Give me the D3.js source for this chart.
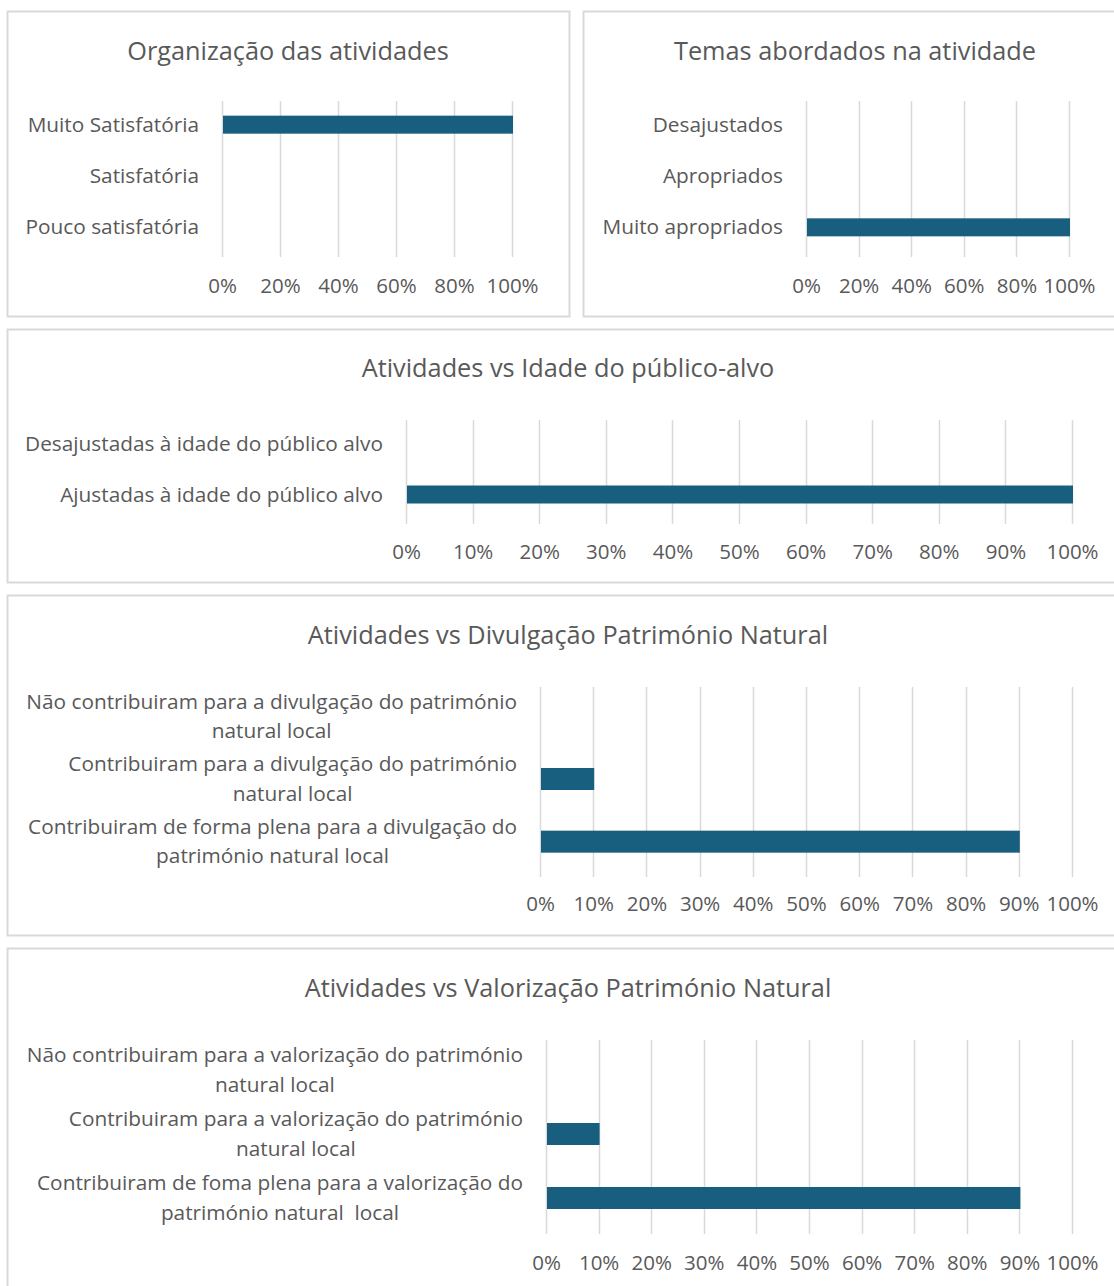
<!DOCTYPE html>
<html>
<head>
<meta charset="utf-8">
<script src="https://cdn.jsdelivr.net/npm/d3@7"></script>
<style>
  body { margin: 0; background: #fff; }
  svg { display: block; font-family: "Open Sans", sans-serif; }
  text { white-space: pre; }
</style>
</head>
<body>
<div id="chart"></div>
<script>
// chart data
var orgCategories = ['Muito Satisfatória', 'Satisfatória', 'Pouco satisfatória']
var orgValues = [1, 0, 0]

var temasCategories = ['Desajustados', 'Apropriados', 'Muito apropriados']
var temasValues = [0, 0, 1]

var idadeCategories = ['Desajustadas à idade do público alvo', 'Ajustadas à idade do público alvo']
var idadeValues = [0, 1]

var divulgCategories = [
  'Não contribuiram para a divulgação do património natural local',
  'Contribuiram para a divulgação do património natural local',
  'Contribuiram de forma plena para a divulgação do património natural local'
]
var divulgValues = [0, 0.1, 0.9]

var valorCategories = [
  'Não contribuiram para a valorização do património natural local',
  'Contribuiram para a valorização do património natural local',
  'Contribuiram de foma plena para a valorização do património natural  local'
]
var valorValues = [0, 0.1, 0.9]

var ticks20 = [0, 0.2, 0.4, 0.6, 0.8, 1]
var ticks10 = [0, 0.1, 0.2, 0.3, 0.4, 0.5, 0.6, 0.7, 0.8, 0.9, 1]

var titles = [
  'Organização das atividades',
  'Temas abordados na atividade',
  'Atividades vs Idade do público-alvo',
  'Atividades vs Divulgação Património Natural',
  'Atividades vs Valorização Património Natural'
]

var barColor = '#175e7f'
var textColor = '#595959'
var gridColor = '#d9d9d9'
var labelSize = 20.8
var tickSize = 20.5
var titleSize = 25.3

var svg = d3.select('#chart').append('svg')
  .attr('width', 1114)
  .attr('height', 1286)

var panels = [
  { title: titles[0], cats: orgCategories, vals: orgValues, ticks: ticks20,
    box: [7, 11, 562, 305], titleY: 60, x0: 222, x1: 512, y0: 99, y1: 253, barH: 18, tickY: 292, wrap: 400 },
  { title: titles[1], cats: temasCategories, vals: temasValues, ticks: ticks20,
    box: [583, 11, 544, 305], titleY: 60, x0: 806, x1: 1069, y0: 99, y1: 253, barH: 18, tickY: 292, wrap: 400 },
  { title: titles[2], cats: idadeCategories, vals: idadeValues, ticks: ticks10,
    box: [7, 329, 1122, 253], titleY: 377, x0: 406, x1: 1072, y0: 418, y1: 520, barH: 18, tickY: 558, wrap: 505 },
  { title: titles[3], cats: divulgCategories, vals: divulgValues, ticks: ticks10,
    box: [7, 595, 1122, 340], titleY: 644, x0: 540, x1: 1072, y0: 685, y1: 873, barH: 22, tickY: 910, wrap: 505 },
  { title: titles[4], cats: valorCategories, vals: valorValues, ticks: ticks10,
    box: [7, 948, 1122, 360], titleY: 997, x0: 546, x1: 1072, y0: 1038, y1: 1230, barH: 22, tickY: 1269, wrap: 505 }
]

panels.forEach(drawPanel)

function drawPanel(p) {
  var g = svg.append('g')

  g.append('rect')
    .attr('x', p.box[0] + 0.5).attr('y', p.box[1] + 0.5)
    .attr('width', p.box[2]).attr('height', p.box[3])
    .attr('fill', '#fff')
    .attr('stroke', gridColor)
    .attr('stroke-width', 2)

  g.append('text')
    .attr('x', p.box[0] + p.box[2] / 2)
    .attr('y', p.titleY)
    .attr('text-anchor', 'middle')
    .attr('fill', textColor)
    .style('font-size', titleSize + 'px')
    .text(p.title)

  var xScale = d3.scaleLinear().domain([0, 1]).range([p.x0, p.x1])
  var yScale = d3.scaleBand().domain(p.cats).range([p.y0, p.y1])

  // gridlines
  g.selectAll('.grid')
    .data(p.ticks)
    .enter().append('line')
    .attr('x1', function(d) { return Math.round(xScale(d)) + 0.5 })
    .attr('x2', function(d) { return Math.round(xScale(d)) + 0.5 })
    .attr('y1', p.y0 + 2)
    .attr('y2', p.y1 + 4)
    .attr('stroke', gridColor)
    .attr('stroke-width', 1.5)

  // x axis labels
  var xAxis = d3.axisBottom(xScale)
    .tickValues(p.ticks)
    .tickFormat(d3.format('.0%'))
    .tickSize(0)
  var ax = g.append('g')
    .attr('transform', 'translate(0,' + (p.tickY - 17) + ')')
    .call(xAxis)
  ax.select('.domain').remove()
  ax.selectAll('text')
    .attr('fill', textColor)
    .style('font-size', tickSize + 'px')
    .style('font-family', '"Open Sans", sans-serif')

  // bars
  g.selectAll('.bar')
    .data(p.vals)
    .enter().append('rect')
    .attr('x', xScale(0) + 1)
    .attr('y', function(d, i) { return yScale(p.cats[i]) + yScale.bandwidth() / 2 - p.barH / 2 })
    .attr('width', function(d) { return Math.max(0, xScale(d) - xScale(0)) })
    .attr('height', p.barH)
    .attr('fill', barColor)

  // category labels
  var right = p.x0 - 23
  p.cats.forEach(function(c) {
    var lines = wrapText(c, p.wrap)
    var t = g.append('text')
      .attr('fill', textColor)
      .style('font-size', labelSize + 'px')
      .attr('text-anchor', 'middle')
    var widths = lines.map(measure)
    var maxW = d3.max(widths)
    var cx = right - maxW / 2
    var cy = yScale(c) + yScale.bandwidth() / 2
    var lh = 29.5
    lines.forEach(function(line, i) {
      t.append('tspan')
        .attr('x', cx)
        .attr('y', cy + 7 + (i - (lines.length - 1) / 2) * lh)
        .text(line)
    })
  })
}

var measurer = null
function measure(str) {
  if (!measurer) {
    measurer = svg.append('text').style('font-size', labelSize + 'px').attr('opacity', 0)
  }
  measurer.text(str)
  return measurer.node().getComputedTextLength()
}

function wrapText(str, maxW) {
  var words = str.split(' ')
  var lines = []
  var cur = ''
  for (var i = 0; i < words.length; i++) {
    var test = cur === '' ? words[i] : cur + ' ' + words[i]
    if (measure(test) > maxW && cur !== '') {
      lines.push(cur)
      cur = words[i]
    } else {
      cur = test
    }
  }
  lines.push(cur)
  return lines
}
</script>
</body>
</html>
